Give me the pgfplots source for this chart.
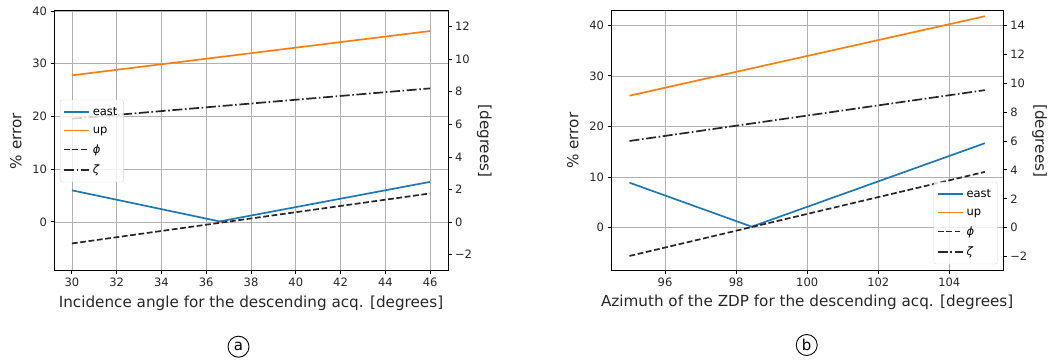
\documentclass[border=0pt]{standalone}
\usepackage{fontspec}
\setmainfont{DejaVu Sans}
\usepackage{pgfplots}
\pgfplotsset{compat=1.18}
\definecolor{mplblue}{HTML}{1F77B4}
\definecolor{mplorange}{HTML}{FF7F0E}
\definecolor{gridgray}{HTML}{B0B0B0}
\tikzset{
  eaststyle/.style={draw=mplblue, line width=1.7pt},
  upstyle/.style={draw=mplorange, line width=1.7pt},
  phistyle/.style={draw=black!85, line width=1.7pt, dash pattern=on 5.8pt off 2.6pt},
  zetastyle/.style={draw=black!85, line width=1.7pt, dash pattern=on 10pt off 2.6pt on 1.6pt off 2.6pt},
}
\pgfplotsset{
  common/.style={
    scale only axis, height=260pt,
    /pgf/number format/assume math mode=true,
    tick align=outside,
    major tick length=3.5pt,
    tick style={black, line width=0.9pt},
    axis line style={line width=1pt},
    ticklabel style={font=\fontsize{11.5}{13}\selectfont, text=black!85},
    label style={font=\fontsize{15.2}{17}\selectfont, text=black!85},
    clip=false,
  },
  leftax/.style={common,
    xtick pos=bottom, ytick pos=left,
    grid=major, major grid style={gridgray, line width=0.8pt},
    xlabel style={yshift=-2pt},
    ylabel shift=4pt,
  },
  rightax/.style={common,
    axis x line=none, axis y line*=right,
    ylabel style={rotate=180},
    ylabel shift=-2pt,
    legend cell align=left,
    legend image code/.code={\draw[##1] (0pt,0pt) -- (25pt,0pt);},
    legend style={draw=black!15, rounded corners=2pt, fill=white, fill opacity=0.8, text opacity=1,
      font=\fontsize{11.5}{13}\selectfont, row sep=6pt, inner xsep=3pt, inner ysep=5pt,
      nodes={inner xsep=3pt}},
  },
}
\begin{document}
\begin{tikzpicture}
\path[use as bounding box] (0pt,0pt) rectangle (1062pt,363pt);
% ---------- panel (a)
\begin{axis}[leftax, at={(54pt,92pt)}, anchor=south west, width=394pt,
  xmin=29.2, xmax=46.8, ymin=-9.3, ymax=40,
  xtick={30,32,...,46}, ytick={0,10,20,30,40},
  xlabel={Incidence angle for the descending acq. [degrees]},
  ylabel={\% error}]
\addplot[eaststyle] coordinates {(30,6.0) (36.6,0.1) (46,7.6)};
\addplot[upstyle] coordinates {(30,27.8) (46,36.2)};
\end{axis}
\begin{axis}[rightax, at={(54pt,92pt)}, anchor=south west, width=394pt,
  xmin=29.2, xmax=46.8, ymin=-3.0, ymax=12.96,
  ytick={-2,0,2,4,6,8,10,12},
  yticklabels={−2,0,2,4,6,8,10,12},
  ylabel={[degrees]},
  legend style={at={(0.015,0.5)}, anchor=west}]
\addlegendimage{draw=mplblue, line width=1.7pt}\addlegendentry{east}
\addlegendimage{draw=mplorange, line width=1.7pt}\addlegendentry{up}
\addplot[phistyle] coordinates {(30,-1.31) (46,1.76)};\addlegendentry{\textit{ϕ}}
\addplot[zetastyle] coordinates {(30,6.35) (46,8.21)};\addlegendentry{\textit{ζ}}
\end{axis}
% ---------- panel (b)
\begin{axis}[leftax, at={(611pt,92.3pt)}, anchor=south west, width=392.3pt,
  xmin=94.48, xmax=105.52, ymin=-8.5, ymax=42.9,
  xtick={96,98,...,104}, ytick={0,10,20,30,40},
  xlabel={Azimuth of the ZDP for the descending acq. [degrees]},
  ylabel={\% error}]
\addplot[eaststyle] coordinates {(95,8.9) (98.44,0.2) (105,16.7)};
\addplot[upstyle] coordinates {(95,26.1) (105,41.8)};
\end{axis}
\begin{axis}[rightax, at={(611pt,92.3pt)}, anchor=south west, width=392.3pt,
  xmin=94.48, xmax=105.52, ymin=-2.98, ymax=15.02,
  ytick={-2,0,2,4,6,8,10,12,14},
  yticklabels={−2,0,2,4,6,8,10,12,14},
  ylabel={[degrees]},
  legend style={at={(0.985,0.025)}, anchor=south east}]
\addlegendimage{draw=mplblue, line width=1.7pt}\addlegendentry{east}
\addlegendimage{draw=mplorange, line width=1.7pt}\addlegendentry{up}
\addplot[phistyle] coordinates {(95,-1.96) (105,3.86)};\addlegendentry{\textit{ϕ}}
\addplot[zetastyle] coordinates {(95,6.0) (105,9.52)};\addlegendentry{\textit{ζ}}
\end{axis}
% circled panel labels
\node[circle, draw, line width=0.9pt, inner sep=0pt, minimum size=21pt, font=\fontsize{15}{17}\selectfont] at (238.5pt,16.3pt) {a};
\node[circle, draw, line width=0.9pt, inner sep=0pt, minimum size=21pt, font=\fontsize{15}{17}\selectfont] at (806.7pt,18pt) {b};
\end{tikzpicture}
\end{document}
